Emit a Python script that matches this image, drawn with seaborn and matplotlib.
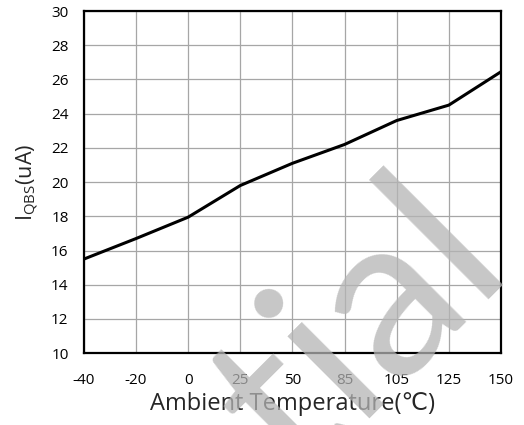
import matplotlib
matplotlib.use("Agg")
import matplotlib.pyplot as plt
import pandas as pd
import seaborn as sns

# Data
temps = ["-40", "-20", "0", "25", "50", "85", "105", "125", "150"]
iqbs = [15.5, 16.7, 17.95, 19.8, 21.1, 22.2, 23.6, 24.5, 26.45]
y_ticks = list(range(10, 31, 2))

sns.set_theme(style="white")
plt.rcParams["font.family"] = ["Open Sans", "DejaVu Sans"]
plt.rcParams["mathtext.default"] = "regular"

df = pd.DataFrame({"temp": temps, "iqbs": iqbs})

fig = plt.figure(figsize=(5.24, 4.25), dpi=100)
ax = fig.add_axes([0.160, 0.169, 0.796, 0.805])

sns.lineplot(data=df, x="temp", y="iqbs", sort=False, color="black",
             linewidth=2.2, ax=ax, zorder=3)

ax.set_xlim(0, len(temps) - 1)
ax.set_ylim(10, 30)
ax.set_yticks(y_ticks)
ax.grid(True, color="#a6a6a6", linewidth=0.9)
ax.set_axisbelow(True)
ax.tick_params(axis="both", length=0, labelsize=11, colors="black")
ax.tick_params(axis="y", pad=11)
ax.tick_params(axis="x", pad=14.5)

for side in ["left", "bottom", "top", "right"]:
    ax.spines[side].set_color("black")
    ax.spines[side].set_linewidth(1.6)

ax.set_xlabel("Ambient Temperature(\u2103)", fontsize=17, labelpad=3)
ax.set_ylabel("I$_{QBS}$(uA)", fontsize=15.5, labelpad=8)

# watermark
fig.text(0.978, 0.377, "Confidential", rotation=45, rotation_mode="anchor",
         ha="right", va="baseline", fontsize=165, color="#b4b4b4",
         family=["Lato", "DejaVu Sans"], alpha=0.75, zorder=10)

fig.savefig("out.png", dpi=100)
